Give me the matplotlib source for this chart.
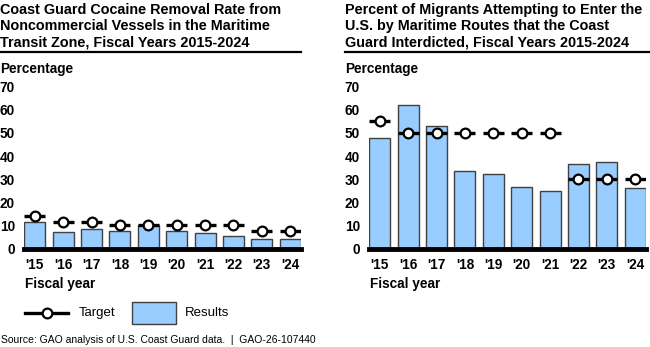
import numpy as np
import matplotlib
matplotlib.use('Agg')
import matplotlib.pyplot as plt
from matplotlib.lines import Line2D
from matplotlib.patches import Rectangle

plt.rcParams['font.family'] = ['Liberation Sans', 'DejaVu Sans']

years = ["'15", "'16", "'17", "'18", "'19", "'20", "'21", "'22", "'23", "'24"]

# cocaine removal rate (left)
coc_results = [11.3, 7.2, 8.3, 7.5, 10.0, 7.6, 6.7, 5.5, 4.0, 4.3]
coc_target = [14, 11.6, 11.6, 10, 10, 10, 10, 10, 7.5, 7.5]

# migrant interdiction (right)
mig_results = [48, 62, 53.2, 33.7, 32.4, 26.7, 24.9, 36.7, 37.6, 26.1]
mig_target = [55, 50, 50, 50, 50, 50, 50, 30, 30, 30]

titles = ["Coast Guard Cocaine Removal Rate from\nNoncommercial Vessels in the Maritime\nTransit Zone, Fiscal Years 2015-2024",
          "Percent of Migrants Attempting to Enter the\nU.S. by Maritime Routes that the Coast\nGuard Interdicted, Fiscal Years 2015-2024"]

bar_col = '#99ccff'
W, H = 650., 347.

fig = plt.figure(figsize=(6.5, 3.47), dpi=100)

def fx(px):
    return px / W

def fy(py):
    return 1 - py / H

panels = [(24, 0, coc_results, coc_target), (369, 345, mig_results, mig_target)]
bw = 0.74
for i, (axl, tx, res, tgt) in enumerate(panels):
    ax = fig.add_axes([fx(axl), fy(248.5), fx(277), (248.5 - 86.7) / H])
    x = np.arange(len(years))
    ax.bar(x, res, width=bw, color=bar_col, edgecolor='#404040', linewidth=1, zorder=2)
    ax.hlines(tgt, x - bw / 2, x + bw / 2, color='black', lw=2.4, zorder=3)
    ax.plot(x, tgt, 'o', ms=7, mfc='white', mec='black', mew=1.6, zorder=4, ls='none')
    ax.axhline(0, color='black', lw=3.5, zorder=5, clip_on=False)
    ax.set_xlim(-bw / 2 - 0.01, len(years) - 1 + bw / 2 + 0.01)
    ax.set_ylim(0, 70)
    ax.set_yticks(range(0, 71, 10))
    ax.set_xticks(x)
    ax.set_xticklabels(years)
    for s in ax.spines.values():
        s.set_visible(False)
    ax.tick_params(length=0, labelsize=9.8, pad=7)
    ax.tick_params(axis='y', pad=6.5)
    for lab in ax.get_xticklabels() + ax.get_yticklabels():
        lab.set_fontweight('bold')
    # title and rule
    fig.text(fx(tx), fy(3), titles[i], fontsize=10.4, fontweight='bold', va='top', ha='left', linespacing=1.22)
    right = 301 if i == 0 else 650
    fig.add_artist(Line2D([fx(tx), fx(right)], [fy(52), fy(52)], color='black', lw=1.6))
    fig.text(fx(tx), fy(69), 'Percentage', fontsize=9.8, fontweight='bold', va='center', ha='left')
    fig.text(fx(axl + 1), fy(284), 'Fiscal year', fontsize=9.8, fontweight='bold', va='center', ha='left')

# legend
fig.add_artist(Line2D([fx(25), fx(68)], [fy(313), fy(313)], color='black', lw=2.4))
fig.add_artist(Line2D([fx(46.5)], [fy(313)], marker='o', ms=7, mfc='white', mec='black', mew=1.6, ls='none'))
fig.text(fx(79), fy(313), 'Target', fontsize=9.5, va='center', ha='left')
fig.add_artist(Rectangle((fx(132), fy(324)), fx(44), (324 - 302) / H, facecolor=bar_col,
                         edgecolor='#404040', lw=1, transform=fig.transFigure))
fig.text(fx(185), fy(313), 'Results', fontsize=9.5, va='center', ha='left')

fig.text(fx(1), fy(340), 'Source: GAO analysis of U.S. Coast Guard data.  |  GAO-26-107440',
         fontsize=7.5, va='center', ha='left')

plt.savefig('out.png', dpi=100)
